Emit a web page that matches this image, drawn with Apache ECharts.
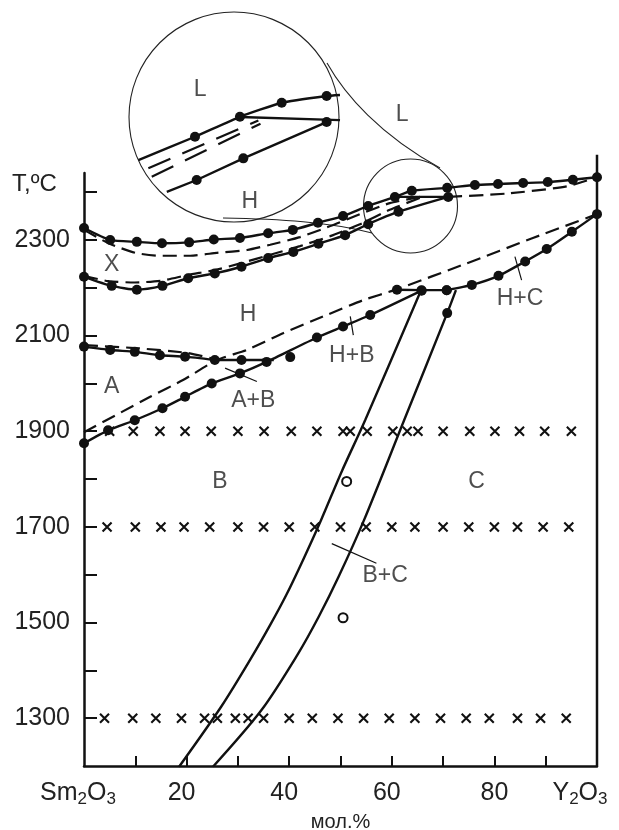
<!DOCTYPE html>
<html><head><meta charset="utf-8">
<script src="https://cdn.jsdelivr.net/npm/echarts@6/dist/echarts.min.js"></script>
<style>html,body{margin:0;padding:0;background:#fff}#c{width:619px;height:830px}</style>
</head><body><div id="c"></div>
<script>
// ---------- data (composition mol.% Y2O3, temperature °C) ----------
const xTickValues = [10, 20, 30, 40, 50, 60, 70, 80, 90];
const xLabelValues = [0, 20, 40, 60, 80, 100];
const yTickValues = [1300, 1400, 1500, 1600, 1700, 1800, 1900, 2000, 2100, 2200, 2300, 2400];
const yLabelValues = [1300, 1500, 1700, 1900, 2100, 2300];

const liquidus = [[0,2325],[5.1,2300],[10.3,2296],[15.2,2293],[20.5,2295],[25.3,2301],[30.4,2304],[35.9,2314],[40.7,2321],[45.6,2336],[50.5,2350],[55.4,2371],[60.6,2390],[63.9,2403],[70.8,2409],[76.2,2415],[80.7,2417],[85.6,2419],[90.4,2421],[95.3,2426],[100,2431]];
const solidusLX = [[0,2321],[5,2292],[10,2273],[14.8,2267],[20.7,2267],[25.9,2273],[31.8,2279],[36.3,2290],[42.1,2306],[48,2329],[53.8,2354],[59.6,2377],[65.5,2390]];
const xhUpper = [[0,2225],[4.7,2214],[9.9,2211],[15.2,2215],[20.3,2227],[25.5,2237],[30.8,2252],[36.3,2269],[42.1,2287],[48,2308],[53.8,2333],[59.6,2363],[65.5,2388]];
const xhLower = [[0,2223],[5.4,2204],[10.3,2196],[15.3,2204],[20.3,2220],[25.5,2230],[30.7,2244],[35.9,2262],[40.8,2275],[45.7,2292],[50.9,2310],[55.4,2333],[61.3,2359],[71,2390]];
const peritecticL = [[60.6,2390],[71,2390]];
const solidusLH = [[71,2390],[82.4,2397],[94.1,2412],[100,2431]];

const haSolid = [[0,2077],[5.1,2070],[9.9,2066],[14.8,2059],[19.7,2056],[25.5,2049]];
const haDashed = [[0,2080],[9.9,2074],[20,2064],[25.5,2051]];
const eutectoidAB = [[25.5,2049],[30.7,2049],[37,2049]];
const hbDashed = [[0,1898],[12.9,1972],[19.3,2007],[25.9,2049],[31.7,2070],[38.8,2105],[46.6,2140],[54.4,2174],[61,2197],[74.6,2251],[87.5,2304],[100,2354]];
const hbSolid = [[0,1875],[4.7,1902],[9.9,1923],[15.3,1948],[19.7,1972],[24.9,2000],[30.4,2021],[35.6,2045],[45.4,2096],[50.5,2119],[55.8,2143],[65.8,2194]];
const eutectoidBC = [[61,2196],[65.8,2195],[70.7,2195]];
const hcSolid = [[70.7,2195],[75.6,2206],[80.8,2225],[86,2255],[90.2,2281],[95.1,2317],[100,2354]];
const bLeft = [[65.7,2195],[54.8,1923],[50.2,1815],[46.2,1714],[42.7,1631],[39.4,1557],[36.3,1495],[32.6,1426],[26.8,1325],[18.5,1198]];
const bRight = [[72.5,2195],[70.8,2147],[62.4,1923],[54.5,1712],[49.6,1595],[45.8,1513],[41.8,1436],[34.6,1317],[25.1,1198]];
const extraDots = [[40.2,2055],[70.8,2147]];
const rightFrame = [[100,1200],[100,2478]];

const cross1900 = [5,9.6,14.8,19.7,24.8,30,35.1,40.4,45.4,50.5,51.9,55.2,60.2,63,65.1,70,75.2,80.1,84.9,89.8,95];
const cross1700 = [4.5,10,15,19.5,24.5,30,35,40,45,50,55,60,64.5,70,75,80,84.5,89.5,94.5];
const cross1300 = [4,9.5,14,19,23.5,26,29.5,32,35,40,44.5,49.5,54.5,59.5,64.5,69.5,74.5,79,84.5,89,94];
const openCircles = [[51.2,1795],[50.5,1510]];

const leaderAB = [[27.5,2032],[33.7,2004]];
const leaderHB = [[51.9,2140],[52.5,2101]];
const leaderHC = [[84,2265],[85.3,2216]];
const leaderBC = [[48.3,1665],[57,1624]];

const regionLabels = [[5.4,2248,'X'],[32,2143,'H'],[5.4,1993,'A'],[33,1965,'A+B'],[52.2,2059,'H+B'],[85,2178,'H+C'],[26.5,1794,'B'],[76.5,1794,'C'],[58.7,1599,'B+C'],[62,2561,'L']];

// inset (magnified schematic), coordinates in 0..100 inset units
const insetLiquidus = [[4.9,29.5],[31.6,40.6],[52.8,50.1],[72.5,56.8],[93.7,60],[100,60.5]];
const insetHorizontal = [[52.8,50],[100,48.5]];
const insetLower = [[18.3,14.4],[32.4,20],[54.4,30.3],[93.7,47.6]];
const insetDashA = [[9.6,25.6],[61.5,48.3]];
const insetDashB = [[11.2,21.6],[62.5,46.8]];
const insetLabels = [[34,62.9,'L'],[57.5,9.7,'H']];

// ---------- chart ----------
const FONT = "'Liberation Sans', Arial, sans-serif";
const INK = '#111';
const chart = echarts.init(document.getElementById('c'));

function solid(data, dots, extra) {
  return Object.assign({
    type: 'line', data: data, showSymbol: dots, showAllSymbol: true, symbol: 'circle', symbolSize: 10,
    itemStyle: { color: INK }, lineStyle: { color: INK, width: 2.4 }, smooth: 0.2,
    animation: false, silent: true, z: 3
  }, extra || {});
}
function dashed(data, extra) {
  return Object.assign({
    type: 'line', data: data, showSymbol: false, smooth: 0.2,
    lineStyle: { color: INK, width: 2.2, type: [14, 7] }, animation: false, silent: true, z: 3
  }, extra || {});
}
function thin(data) {
  return { type: 'line', data: data, showSymbol: false, lineStyle: { color: INK, width: 1.2 }, animation: false, silent: true, z: 2 };
}
const crossSymbol = 'path://M0,0L10,10M10,0L0,10';
function crosses(xs, t) {
  return { type: 'scatter', data: xs.map(x => [x, t]), symbol: crossSymbol, symbolSize: 9,
    itemStyle: { color: 'none', borderColor: INK, borderWidth: 2.1, opacity: 1 }, animation: false, silent: true, z: 4 };
}
const inset = { xAxisIndex: 1, yAxisIndex: 1 };
const endsPlain = d => d.map((p, i) => (i === 0 || i === d.length - 1) ? { value: p, symbol: 'none' } : p);

chart.setOption({
  backgroundColor: '#fff',
  animation: false,
  grid: [
    { left: 84, right: 22, top: 173, bottom: 64, containLabel: false, outerBoundsMode: 'none' },
    { left: 128, top: 12, width: 212, height: 210, containLabel: false, outerBoundsMode: 'none' }
  ],
  xAxis: [
    {
      type: 'value', min: 0, max: 100, gridIndex: 0,
      axisLine: { lineStyle: { color: INK, width: 2.5 } },
      axisTick: { inside: true, length: 10, customValues: xTickValues, lineStyle: { color: INK, width: 2 } },
      axisLabel: {
        customValues: xLabelValues, margin: 12, color: '#222',
        formatter: function (v) {
          if (v === 0) return '{m|Sm}{s|2}{m|O}{sa|3}';
          if (v === 100) return '{m|Y}{s|2}{m|O}{sb|3}';
          if (v === 80) return '{n|80}';
          return '{np|' + v + '}';
        },
        rich: {
          m: { fontSize: 25, fontFamily: FONT, color: '#222', lineHeight: 30 },
          s: { fontSize: 17, fontFamily: FONT, color: '#222', lineHeight: 14, verticalAlign: 'bottom' },
          sa: { fontSize: 17, fontFamily: FONT, color: '#222', lineHeight: 14, verticalAlign: 'bottom', padding: [0, 12, 0, 0] },
          sb: { fontSize: 17, fontFamily: FONT, color: '#222', lineHeight: 14, verticalAlign: 'bottom', padding: [0, 34, 0, 0] },
          n: { fontSize: 25, fontFamily: FONT, color: '#222', lineHeight: 30 },
          np: { fontSize: 25, fontFamily: FONT, color: '#222', lineHeight: 30, padding: [0, 10, 0, 0] }
        }
      },
      splitLine: { show: false },
      name: 'мол.%', nameLocation: 'middle', nameGap: 42,
      nameTextStyle: { fontSize: 20, fontFamily: FONT, color: '#222' }
    },
    { type: 'value', min: 0, max: 100, gridIndex: 1, show: false }
  ],
  yAxis: [
    {
      type: 'value', min: 1200, max: 2440, gridIndex: 0,
      axisLine: { lineStyle: { color: INK, width: 2.5 } },
      axisTick: { inside: true, length: 13, customValues: yTickValues, lineStyle: { color: INK, width: 2 } },
      axisLabel: { customValues: yLabelValues, margin: 14, fontSize: 25, fontFamily: FONT, color: '#222', formatter: v => String(v) },
      splitLine: { show: false }
    },
    { type: 'value', min: 0, max: 100, gridIndex: 1, show: false }
  ],
  graphic: [
    { type: 'circle', shape: { cx: 234, cy: 117, r: 105 }, style: { fill: 'none', stroke: '#222', lineWidth: 1.1 }, silent: true },
    { type: 'circle', shape: { cx: 410.5, cy: 206, r: 47 }, style: { fill: 'none', stroke: '#222', lineWidth: 1.1 }, silent: true },
    { type: 'bezierCurve', shape: { x1: 327, y1: 63, cpx1: 345, cpy1: 95, cpx2: 380, cpy2: 135, x2: 440, y2: 168 }, style: { fill: 'none', stroke: '#222', lineWidth: 1.1 }, silent: true },
    { type: 'bezierCurve', shape: { x1: 223, y1: 218, cpx1: 280, cpy1: 219, cpx2: 330, cpy2: 222, x2: 372, y2: 233 }, style: { fill: 'none', stroke: '#222', lineWidth: 1.1 }, silent: true },
    { type: 'text', style: { x: 12, y: 172, text: 'T,ºC', fontSize: 24, fontFamily: FONT, fill: '#222' }, silent: true }
  ],
  series: [
    solid(rightFrame, false, { smooth: false, clip: false, lineStyle: { color: INK, width: 2.5 } }),
    solid(liquidus, true),
    dashed(solidusLX),
    dashed(xhUpper),
    solid(xhLower, true),
    solid(peritecticL, false, { smooth: false }),
    dashed(solidusLH),
    solid(haSolid, true),
    dashed(haDashed),
    solid(endsPlain(eutectoidAB), true, { smooth: false }),
    dashed(hbDashed),
    solid(hbSolid, true),
    solid(eutectoidBC, true, { smooth: false }),
    solid(hcSolid, true),
    solid(bLeft, false, { smooth: 0.3 }),
    solid(bRight, false, { smooth: 0.3 }),
    { type: 'scatter', data: extraDots, symbol: 'circle', symbolSize: 10, itemStyle: { color: INK, opacity: 1 }, animation: false, silent: true, z: 4 },
    crosses(cross1900, 1900),
    crosses(cross1700, 1700),
    crosses(cross1300, 1300),
    { type: 'scatter', data: openCircles, symbol: 'emptyCircle', symbolSize: 9, itemStyle: { color: INK, borderWidth: 1.6, opacity: 1 }, animation: false, silent: true, z: 4 },
    thin(leaderAB), thin(leaderHB), thin(leaderHC), thin(leaderBC),
    {
      type: 'scatter', data: regionLabels, symbolSize: 1, clip: false, itemStyle: { color: 'transparent' },
      label: { show: true, position: 'inside', formatter: p => p.value[2], fontSize: 23, fontFamily: FONT, color: '#222' },
      animation: false, silent: true, z: 5
    },
    // inset
    solid(endsPlain(insetLiquidus), true, Object.assign({ smooth: 0.15 }, inset)),
    solid(insetHorizontal, false, Object.assign({ smooth: false }, inset)),
    solid(insetLower.map((p, i) => i === 0 ? { value: p, symbol: 'none' } : p), true, Object.assign({ smooth: false }, inset)),
    dashed(insetDashA, Object.assign({ smooth: false, lineStyle: { color: INK, width: 2.2, type: [24, 13] } }, inset)),
    dashed(insetDashB, Object.assign({ smooth: false, lineStyle: { color: INK, width: 2.2, type: [24, 13] } }, inset)),
    Object.assign({
      type: 'scatter', data: insetLabels, symbolSize: 1, clip: false, itemStyle: { color: 'transparent' },
      label: { show: true, position: 'inside', formatter: p => p.value[2], fontSize: 23, fontFamily: FONT, color: '#222' },
      animation: false, silent: true, z: 5
    }, inset)
  ]
});
</script></body></html>
